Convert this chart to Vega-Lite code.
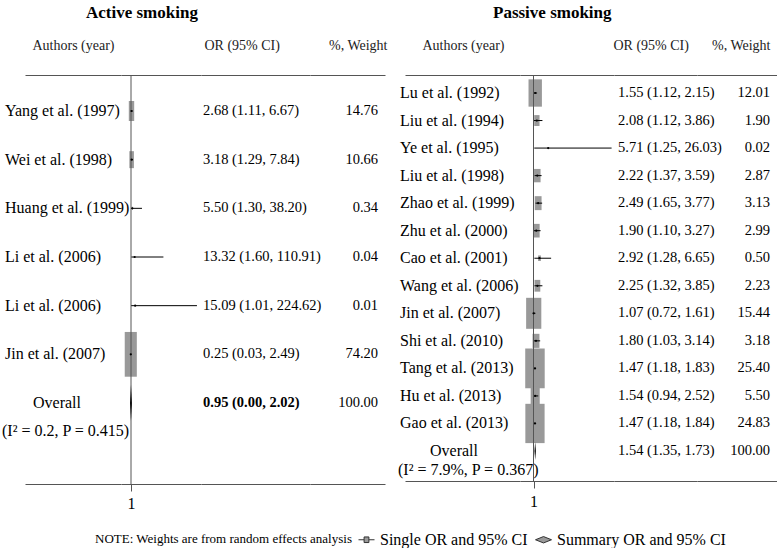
{
  "$schema": "https://vega.github.io/schema/vega-lite/v6.json",
  "padding": {"left": 2, "top": 4, "right": 0, "bottom": 0},
  "autosize": {"type": "pad"},
  "datasets": {
    "active": [
      {"id": 1, "kind": "study", "study": "Yang et al. (1997)", "or": 2.68, "lo": 1.11, "hi": 6.67, "w": 14.76, "ortext": "2.68 (1.11, 6.67)"},
      {"id": 2, "kind": "study", "study": "Wei et al. (1998)", "or": 3.18, "lo": 1.29, "hi": 7.84, "w": 10.66, "ortext": "3.18 (1.29, 7.84)"},
      {"id": 3, "kind": "study", "study": "Huang et al. (1999)", "or": 5.50, "lo": 1.30, "hi": 38.20, "w": 0.34, "ortext": "5.50 (1.30, 38.20)"},
      {"id": 4, "kind": "study", "study": "Li et al. (2006)", "or": 13.32, "lo": 1.60, "hi": 110.91, "w": 0.04, "ortext": "13.32 (1.60, 110.91)"},
      {"id": 5, "kind": "study", "study": "Li et al. (2006)", "or": 15.09, "lo": 1.01, "hi": 224.62, "w": 0.01, "ortext": "15.09 (1.01, 224.62)"},
      {"id": 6, "kind": "study", "study": "Jin et al. (2007)", "or": 0.25, "lo": 0.03, "hi": 2.49, "w": 74.20, "ortext": "0.25 (0.03, 2.49)"},
      {"id": 7, "kind": "overall", "study": "Overall", "note": "(I² = 0.2, P = 0.415)", "or": 0.95, "lo": 0.00, "hi": 2.02, "w": 100.00, "ortext": "0.95 (0.00, 2.02)"}
    ],
    "passive": [
      {"id": 1, "kind": "study", "study": "Lu et al. (1992)", "or": 1.55, "lo": 1.12, "hi": 2.15, "w": 12.01, "ortext": "1.55 (1.12, 2.15)"},
      {"id": 2, "kind": "study", "study": "Liu et al. (1994)", "or": 2.08, "lo": 1.12, "hi": 3.86, "w": 1.90, "ortext": "2.08 (1.12, 3.86)"},
      {"id": 3, "kind": "study", "study": "Ye et al. (1995)", "or": 5.71, "lo": 1.25, "hi": 26.03, "w": 0.02, "ortext": "5.71 (1.25, 26.03)"},
      {"id": 4, "kind": "study", "study": "Liu et al. (1998)", "or": 2.22, "lo": 1.37, "hi": 3.59, "w": 2.87, "ortext": "2.22 (1.37, 3.59)"},
      {"id": 5, "kind": "study", "study": "Zhao et al. (1999)", "or": 2.49, "lo": 1.65, "hi": 3.77, "w": 3.13, "ortext": "2.49 (1.65, 3.77)"},
      {"id": 6, "kind": "study", "study": "Zhu et al. (2000)", "or": 1.90, "lo": 1.10, "hi": 3.27, "w": 2.99, "ortext": "1.90 (1.10, 3.27)"},
      {"id": 7, "kind": "study", "study": "Cao et al. (2001)", "or": 2.92, "lo": 1.28, "hi": 6.65, "w": 0.50, "ortext": "2.92 (1.28, 6.65)"},
      {"id": 8, "kind": "study", "study": "Wang et al. (2006)", "or": 2.25, "lo": 1.32, "hi": 3.85, "w": 2.23, "ortext": "2.25 (1.32, 3.85)"},
      {"id": 9, "kind": "study", "study": "Jin et al. (2007)", "or": 1.07, "lo": 0.72, "hi": 1.61, "w": 15.44, "ortext": "1.07 (0.72, 1.61)"},
      {"id": 10, "kind": "study", "study": "Shi et al. (2010)", "or": 1.80, "lo": 1.03, "hi": 3.14, "w": 3.18, "ortext": "1.80 (1.03, 3.14)"},
      {"id": 11, "kind": "study", "study": "Tang et al. (2013)", "or": 1.47, "lo": 1.18, "hi": 1.83, "w": 25.40, "ortext": "1.47 (1.18, 1.83)"},
      {"id": 12, "kind": "study", "study": "Hu et al. (2013)", "or": 1.54, "lo": 0.94, "hi": 2.52, "w": 5.50, "ortext": "1.54 (0.94, 2.52)"},
      {"id": 13, "kind": "study", "study": "Gao et al. (2013)", "or": 1.47, "lo": 1.18, "hi": 1.84, "w": 24.83, "ortext": "1.47 (1.18, 1.84)"},
      {"id": 14, "kind": "overall", "study": "Overall", "note": "(I² = 7.9%, P = 0.367)", "or": 1.54, "lo": 1.35, "hi": 1.73, "w": 100.00, "ortext": "1.54 (1.35, 1.73)"}
    ]
  },
  "spacing": 11,
  "resolve": {"scale": {"size": "independent"}},
  "hconcat": [
    {
      "title": {"text": "Active smoking", "anchor": "start", "dx": 84, "fontSize": 17, "fontWeight": "bold", "font": "Liberation Serif", "color": "#000", "offset": 16},
      "data": {"name": "active"},
      "spacing": 0,
      "bounds": "flush",
      "hconcat": [
        {
          "width": 96, "height": 409,
          "layer": [
            {
              "transform": [{"filter": "datum.kind === 'study'"}],
              "mark": {"type": "text", "align": "left", "dx": -20, "fontSize": 16},
              "encoding": {
                "x": {"datum": 0, "type": "quantitative", "scale": {"domain": [0, 1], "nice": false, "zero": false}, "axis": {"orient": "top", "title": "Authors (year)", "labels": false, "ticks": false, "titleX": 7, "titleY": -30, "titleAlign": "left", "titleBaseline": "middle"}},
                "y": {"field": "id", "type": "ordinal", "axis": null, "scale": {"type": "point", "padding": 0, "range": [36, 328]}},
                "text": {"field": "study"}
              }
            },
            {
              "transform": [{"filter": "datum.kind === 'overall'"}],
              "mark": {"type": "text", "align": "center", "dx": 32, "fontSize": 16},
              "encoding": {
                "x": {"datum": 0, "type": "quantitative", "axis": {"orient": "bottom", "title": null, "labels": false, "ticks": false}},
                "y": {"field": "id", "type": "ordinal", "axis": null},
                "text": {"field": "study"}
              }
            },
            {
              "transform": [{"filter": "datum.kind === 'overall'"}],
              "mark": {"type": "text", "align": "left", "dx": -23, "dy": 28, "fontSize": 16},
              "encoding": {
                "x": {"datum": 0, "type": "quantitative", "axis": null},
                "y": {"field": "id", "type": "ordinal", "axis": null},
                "text": {"field": "note"}
              }
            }
          ],
          "resolve": {"axis": {"x": "independent"}}
        },
        {
          "width": 80, "height": 409,
          "layer": [
            {
              "transform": [{"filter": "datum.kind === 'study'"}],
              "mark": {"type": "point", "shape": "M-0.27,-1L0.27,-1L0.27,1L-0.27,1Z", "filled": true, "color": "#999", "opacity": 1, "strokeWidth": 0},
              "encoding": {
                "x": {"field": "or", "type": "quantitative", "scale": {"domain": [-32.9, 238.3], "nice": false, "zero": false}, "axis": {"orient": "top", "title": null, "labels": false, "ticks": false}},
                "y": {"field": "id", "type": "ordinal", "axis": null, "scale": {"type": "point", "padding": 0, "range": [36, 328]}},
                "size": {"field": "w", "type": "quantitative", "scale": {"domain": [0, 100], "range": [0, 2700]}, "legend": null}
              }
            },
            {
              "transform": [{"filter": "datum.kind === 'study'"}],
              "mark": {"type": "rule", "color": "#000", "strokeWidth": 1},
              "encoding": {
                "x": {"field": "lo", "type": "quantitative", "axis": null},
                "x2": {"field": "hi"},
                "y": {"field": "id", "type": "ordinal", "axis": null}
              }
            },
            {
              "transform": [{"filter": "datum.id === 1"}],
              "mark": {"type": "rule", "color": "#555", "strokeWidth": 1},
              "encoding": {
                "x": {"datum": 1, "type": "quantitative", "axis": {"orient": "bottom", "values": [1], "title": null, "tickSize": 7, "tickColor": "#555", "labelFontSize": 16, "labelPadding": 4}}
              }
            },
            {
              "transform": [{"filter": "datum.kind === 'study'"}],
              "mark": {"type": "point", "filled": true, "color": "#000", "size": 5, "opacity": 1},
              "encoding": {
                "x": {"field": "or", "type": "quantitative", "axis": null},
                "y": {"field": "id", "type": "ordinal", "axis": null}
              }
            },
            {
              "transform": [{"filter": "datum.kind === 'overall'"}],
              "mark": {"type": "point", "shape": "M0,-1L0.05,0L0,1L-0.05,0Z", "filled": true, "color": "#000", "size": 1296, "opacity": 1},
              "encoding": {
                "x": {"field": "or", "type": "quantitative", "axis": null},
                "y": {"field": "id", "type": "ordinal", "axis": null}
              }
            }
          ],
          "resolve": {"axis": {"x": "independent"}}
        },
        {
          "width": 109, "height": 409,
          "layer": [
            {
              "transform": [{"filter": "datum.kind === 'study'"}],
              "mark": {"type": "text", "align": "left", "dx": 2, "fontSize": 14.5},
              "encoding": {
                "x": {"datum": 0, "type": "quantitative", "scale": {"domain": [0, 1], "nice": false, "zero": false}, "axis": {"orient": "top", "title": "OR (95% CI)", "labels": false, "ticks": false, "titleX": 3, "titleY": -30, "titleAlign": "left", "titleBaseline": "middle"}},
                "y": {"field": "id", "type": "ordinal", "axis": null, "scale": {"type": "point", "padding": 0, "range": [36, 328]}},
                "text": {"field": "ortext"}
              }
            },
            {
              "transform": [{"filter": "datum.kind === 'overall'"}],
              "mark": {"type": "text", "align": "left", "dx": 2, "fontSize": 14.5, "fontWeight": "bold"},
              "encoding": {
                "x": {"datum": 0, "type": "quantitative", "axis": {"orient": "bottom", "title": null, "labels": false, "ticks": false}},
                "y": {"field": "id", "type": "ordinal", "axis": null},
                "text": {"field": "ortext"}
              }
            }
          ],
          "resolve": {"axis": {"x": "independent"}}
        },
        {
          "width": 75, "height": 409,
          "layer": [
            {
              "transform": [{"filter": "datum.kind === 'study'"}],
              "mark": {"type": "text", "align": "right", "dx": -7, "fontSize": 14.5},
              "encoding": {
                "x": {"datum": 1, "type": "quantitative", "scale": {"domain": [0, 1], "nice": false, "zero": false}, "axis": {"orient": "top", "title": "%, Weight", "labels": false, "ticks": false, "titleX": 77, "titleY": -30, "titleAlign": "right", "titleBaseline": "middle"}},
                "y": {"field": "id", "type": "ordinal", "axis": null, "scale": {"type": "point", "padding": 0, "range": [36, 328]}},
                "text": {"field": "w", "type": "quantitative", "format": ".2f"}
              }
            },
            {
              "transform": [{"filter": "datum.kind === 'overall'"}],
              "mark": {"type": "text", "align": "right", "dx": -7, "fontSize": 14.5},
              "encoding": {
                "x": {"datum": 1, "type": "quantitative", "axis": {"orient": "bottom", "title": null, "labels": false, "ticks": false}},
                "y": {"field": "id", "type": "ordinal", "axis": null},
                "text": {"field": "w", "type": "quantitative", "format": ".2f"}
              }
            }
          ],
          "resolve": {"axis": {"x": "independent"}}
        }
      ]
    },
    {
      "title": {"text": "Passive smoking", "anchor": "start", "dx": 95, "fontSize": 17, "fontWeight": "bold", "font": "Liberation Serif", "color": "#000", "offset": 16},
      "data": {"name": "passive"},
      "spacing": 0,
      "bounds": "flush",
      "hconcat": [
        {
          "width": 115, "height": 406,
          "layer": [
            {
              "transform": [{"filter": "datum.kind === 'study'"}],
              "mark": {"type": "text", "align": "left", "dx": -5, "fontSize": 16},
              "encoding": {
                "x": {"datum": 0, "type": "quantitative", "scale": {"domain": [0, 1], "nice": false, "zero": false}, "axis": {"orient": "top", "title": "Authors (year)", "labels": false, "ticks": false, "titleX": 17, "titleY": -30, "titleAlign": "left", "titleBaseline": "middle"}},
                "y": {"field": "id", "type": "ordinal", "axis": null, "scale": {"type": "point", "padding": 0, "range": [18, 376]}},
                "text": {"field": "study"}
              }
            },
            {
              "transform": [{"filter": "datum.kind === 'overall'"}],
              "mark": {"type": "text", "align": "center", "dx": 49, "fontSize": 16},
              "encoding": {
                "x": {"datum": 0, "type": "quantitative", "axis": {"orient": "bottom", "title": null, "labels": false, "ticks": false}},
                "y": {"field": "id", "type": "ordinal", "axis": null},
                "text": {"field": "study"}
              }
            },
            {
              "transform": [{"filter": "datum.kind === 'overall'"}],
              "mark": {"type": "text", "align": "left", "dx": -7, "dy": 19, "fontSize": 16},
              "encoding": {
                "x": {"datum": 0, "type": "quantitative", "axis": null},
                "y": {"field": "id", "type": "ordinal", "axis": null},
                "text": {"field": "note"}
              }
            }
          ],
          "resolve": {"axis": {"x": "independent"}}
        },
        {
          "width": 94, "height": 406,
          "layer": [
            {
              "transform": [{"filter": "datum.kind === 'study'"}],
              "mark": {"type": "point", "shape": "M-0.49,-1L0.49,-1L0.49,1L-0.49,1Z", "filled": true, "color": "#999", "opacity": 1, "strokeWidth": 0},
              "encoding": {
                "x": {"field": "or", "type": "quantitative", "scale": {"domain": [-3.327, 26.8], "nice": false, "zero": false}, "axis": {"orient": "top", "title": null, "labels": false, "ticks": false}},
                "y": {"field": "id", "type": "ordinal", "axis": null, "scale": {"type": "point", "padding": 0, "range": [18, 376]}},
                "size": {"field": "w", "type": "quantitative", "scale": {"domain": [0, 100], "range": [0, 6220]}, "legend": null}
              }
            },
            {
              "transform": [{"filter": "datum.kind === 'study'"}],
              "mark": {"type": "rule", "color": "#000", "strokeWidth": 1},
              "encoding": {
                "x": {"field": "lo", "type": "quantitative", "axis": null},
                "x2": {"field": "hi"},
                "y": {"field": "id", "type": "ordinal", "axis": null}
              }
            },
            {
              "transform": [{"filter": "datum.id === 1"}],
              "mark": {"type": "rule", "color": "#555", "strokeWidth": 1},
              "encoding": {
                "x": {"datum": 1, "type": "quantitative", "axis": {"orient": "bottom", "values": [1], "title": null, "tickSize": 7, "tickColor": "#555", "labelFontSize": 16, "labelPadding": 5}}
              }
            },
            {
              "transform": [{"filter": "datum.kind === 'study'"}],
              "mark": {"type": "point", "filled": true, "color": "#000", "size": 5, "opacity": 1},
              "encoding": {
                "x": {"field": "or", "type": "quantitative", "axis": null},
                "y": {"field": "id", "type": "ordinal", "axis": null}
              }
            },
            {
              "transform": [{"filter": "datum.kind === 'overall'"}],
              "mark": {"type": "point", "shape": "M0,-1L0.08,0L0,1L-0.08,0Z", "filled": true, "color": "#000", "size": 324, "opacity": 1},
              "encoding": {
                "x": {"field": "or", "type": "quantitative", "axis": null},
                "y": {"field": "id", "type": "ordinal", "axis": null}
              }
            },
            {
              "data": {"values": [{"type": "Single OR and 95% CI"}, {"type": "Summary OR and 95% CI"}]},
              "mark": {"type": "point", "opacity": 0, "filled": true, "fill": "#999", "stroke": "#333", "strokeWidth": 1},
              "encoding": {
                "shape": {
                  "field": "type", "type": "nominal",
                  "scale": {"domain": ["Single OR and 95% CI", "Summary OR and 95% CI"], "range": ["M-1,0L-0.3,0M0.3,0L1,0M-0.3,-0.35L0.3,-0.35L0.3,0.35L-0.3,0.35Z", "M-1,0L0,-0.4L1,0L0,0.4Z"]},
                  "legend": {
                    "orient": "none", "legendX": 70, "legendY": 456,
                    "direction": "horizontal",
                    "title": "NOTE: Weights are from random effects analysis",
                    "titleOrient": "left", "titleFontSize": 13, "titleFontWeight": "normal", "titleFont": "Liberation Serif", "titleColor": "#000", "titlePadding": 5, "titleLimit": 0,
                    "labelFontSize": 16, "labelFont": "Liberation Serif", "labelColor": "#000", "labelOffset": 5, "labelLimit": 0,
                    "symbolSize": 256, "columnPadding": 5, "symbolStrokeWidth": 1, "symbolOpacity": 1,
                    "encode": {"symbols": {"update": {
                      "fill": {"signal": "datum.value === 'Single OR and 95% CI' ? '#888' : 'transparent'"},
                      "stroke": {"signal": "datum.value === 'Single OR and 95% CI' ? '#222' : '#888'"},
                      "opacity": {"value": 1}
                    }}}
                  }
                }
              }
            }
          ],
          "resolve": {"axis": {"x": "independent"}}
        },
        {
          "width": 83, "height": 406,
          "layer": [
            {
              "transform": [{"filter": "datum.kind === 'study'"}],
              "mark": {"type": "text", "align": "left", "dx": 4, "fontSize": 14.5},
              "encoding": {
                "x": {"datum": 0, "type": "quantitative", "scale": {"domain": [0, 1], "nice": false, "zero": false}, "axis": {"orient": "top", "title": "OR (95% CI)", "labels": false, "ticks": false, "titleX": -1, "titleY": -30, "titleAlign": "left", "titleBaseline": "middle"}},
                "y": {"field": "id", "type": "ordinal", "axis": null, "scale": {"type": "point", "padding": 0, "range": [18, 376]}},
                "text": {"field": "ortext"}
              }
            },
            {
              "transform": [{"filter": "datum.kind === 'overall'"}],
              "mark": {"type": "text", "align": "left", "dx": 4, "fontSize": 14.5},
              "encoding": {
                "x": {"datum": 0, "type": "quantitative", "axis": {"orient": "bottom", "title": null, "labels": false, "ticks": false}},
                "y": {"field": "id", "type": "ordinal", "axis": null},
                "text": {"field": "ortext"}
              }
            }
          ],
          "resolve": {"axis": {"x": "independent"}}
        },
        {
          "width": 80, "height": 406,
          "layer": [
            {
              "transform": [{"filter": "datum.kind === 'study'"}],
              "mark": {"type": "text", "align": "right", "dx": -7, "fontSize": 14.5},
              "encoding": {
                "x": {"datum": 1, "type": "quantitative", "scale": {"domain": [0, 1], "nice": false, "zero": false}, "axis": {"orient": "top", "title": "%, Weight", "labels": false, "ticks": false, "titleX": 73, "titleY": -30, "titleAlign": "right", "titleBaseline": "middle"}},
                "y": {"field": "id", "type": "ordinal", "axis": null, "scale": {"type": "point", "padding": 0, "range": [18, 376]}},
                "text": {"field": "w", "type": "quantitative", "format": ".2f"}
              }
            },
            {
              "transform": [{"filter": "datum.kind === 'overall'"}],
              "mark": {"type": "text", "align": "right", "dx": -7, "fontSize": 14.5},
              "encoding": {
                "x": {"datum": 1, "type": "quantitative", "axis": {"orient": "bottom", "title": null, "labels": false, "ticks": false}},
                "y": {"field": "id", "type": "ordinal", "axis": null},
                "text": {"field": "w", "type": "quantitative", "format": ".2f"}
              }
            }
          ],
          "resolve": {"axis": {"x": "independent"}}
        }
      ]
    }
  ],
  "config": {
    "view": {"stroke": null},
    "font": "Liberation Serif",
    "text": {"font": "Liberation Serif", "color": "#000"},
    "axis": {"grid": false, "domainColor": "#555", "domainWidth": 1, "titleFont": "Liberation Serif", "titleFontSize": 14, "titleFontWeight": "normal", "titleColor": "#222", "labelFont": "Liberation Serif", "labelColor": "#000"}
  }
}
